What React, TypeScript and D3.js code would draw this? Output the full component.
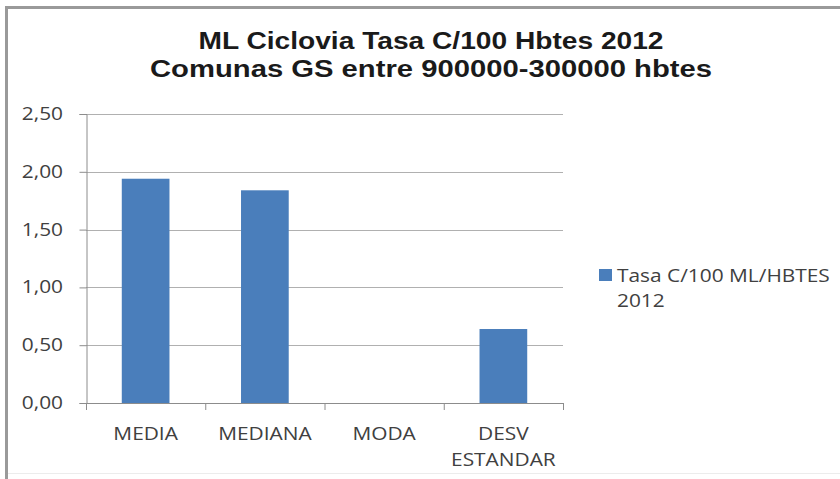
import React, { useEffect, useRef } from 'react';
import * as d3 from 'd3';

const categories = ['MEDIA', 'MEDIANA', 'MODA', 'DESV ESTANDAR'];
const categoryLines = [['MEDIA'], ['MEDIANA'], ['MODA'], ['DESV', 'ESTANDAR']];
const values = [1.94, 1.84, 0, 0.64];
const yTicks = [0, 0.5, 1, 1.5, 2, 2.5];
const titleLines = ['ML Ciclovia Tasa C/100 Hbtes 2012', 'Comunas GS entre 900000-300000 hbtes'];
const legendLines = ['Tasa C/100 ML/HBTES', '2012'];

const App: React.FC = () => {
  const chartRef = useRef<SVGSVGElement>(null);

  useEffect(() => {
    document.body.style.margin = '0';
    const svg = d3.select(chartRef.current!);
    svg.selectAll('*').remove();

    const labelFont = '"Open Sans", sans-serif';
    const barColor = '#4a7ebb';
    const sx = 1.16; // the picture is stretched sideways a little

    // text helper: stretched horizontally around its anchor point
    const addText = (
      parent: d3.Selection<any, unknown, null, undefined>,
      px: number,
      py: number,
      str: string,
      anchor: string
    ) =>
      parent
        .append('g')
        .attr('transform', `translate(${px},${py}) scale(${sx},1)`)
        .append('text')
        .attr('text-anchor', anchor)
        .attr('font-family', labelFont)
        .attr('font-size', 18)
        .attr('fill', '#404040')
        .text(str);

    // outer chart frame
    svg.append('rect').attr('width', 840).attr('height', 479).attr('fill', '#fff');
    svg
      .append('path')
      .attr('d', 'M6.5,479 V7.5 H840')
      .attr('fill', 'none')
      .attr('stroke', '#9a9a9a')
      .attr('stroke-width', 3);
    svg
      .append('line')
      .attr('x1', 8)
      .attr('x2', 840)
      .attr('y1', 473.5)
      .attr('y2', 473.5)
      .attr('stroke', '#ececec');

    // title
    const titleWidths = [465, 562];
    svg
      .append('g')
      .selectAll('text')
      .data(titleLines)
      .enter()
      .append('text')
      .attr('text-anchor', 'middle')
      .attr('font-family', '"Liberation Sans", Arial, sans-serif')
      .attr('font-weight', 'bold')
      .attr('font-size', 23)
      .attr('fill', '#1a1a1a')
      .attr('x', 431)
      .attr('y', (d, i) => 49 + i * 28)
      .attr('textLength', (d, i) => titleWidths[i])
      .attr('lengthAdjust', 'spacingAndGlyphs')
      .text((d) => d);

    const x = d3
      .scaleBand()
      .domain(categories)
      .range([86, 563])
      .paddingInner(0.6)
      .paddingOuter(0.3);

    const y = d3.scaleLinear().domain([0, 2.5]).range([403, 114]);

    const step = x.step();
    const left = 86;
    const right = 563;

    // gridlines
    svg
      .append('g')
      .selectAll('line')
      .data(yTicks)
      .enter()
      .append('line')
      .attr('x1', left)
      .attr('x2', right)
      .attr('y1', (d) => Math.round(y(d)) + 0.5)
      .attr('y2', (d) => Math.round(y(d)) + 0.5)
      .attr('stroke', '#b0b0b0');

    // y axis
    const yAxis = svg
      .append('g')
      .attr('transform', `translate(${left + 0.5},0)`)
      .call(d3.axisLeft(y).tickValues(yTicks).tickSize(7).tickFormat(() => ''));
    yAxis.select('.domain').attr('stroke', '#8c8c8c');
    yAxis.selectAll('.tick line').attr('stroke', '#8c8c8c');
    yAxis.selectAll('.tick text').remove();

    const yLabels = svg.append('g');
    yTicks.forEach((t) => {
      addText(yLabels, 63, y(t) + 6, d3.format('.2f')(t).replace('.', ','), 'end');
    });

    // bars
    svg
      .append('g')
      .selectAll('rect')
      .data(values)
      .enter()
      .append('rect')
      .attr('x', (d, i) => x(categories[i])!)
      .attr('y', (d) => y(d))
      .attr('width', x.bandwidth())
      .attr('height', (d) => y(0) - y(d))
      .attr('fill', barColor);

    // x axis line and category boundary ticks
    svg
      .append('line')
      .attr('x1', left)
      .attr('x2', right)
      .attr('y1', 403.5)
      .attr('y2', 403.5)
      .attr('stroke', '#8c8c8c');
    svg
      .append('g')
      .selectAll('line')
      .data(d3.range(categories.length + 1))
      .enter()
      .append('line')
      .attr('x1', (d) => left + d * step + 0.5)
      .attr('x2', (d) => left + d * step + 0.5)
      .attr('y1', 403)
      .attr('y2', 410)
      .attr('stroke', '#8c8c8c');

    // category labels
    const labels = svg.append('g');
    categories.forEach((c, i) => {
      categoryLines[i].forEach((line, j) => {
        addText(labels, x(c)! + x.bandwidth() / 2, 439.5 + j * 26, line, 'middle');
      });
    });

    // legend
    svg
      .append('rect')
      .attr('x', 599)
      .attr('y', 269)
      .attr('width', 13)
      .attr('height', 12)
      .attr('fill', barColor);
    const legend = svg.append('g');
    legendLines.forEach((line, i) => {
      addText(legend, 617, 282 + i * 25, line, 'start');
    });
  }, []);

  return <svg ref={chartRef} width={840} height={479} style={{ display: 'block' }} />;
};

export default App;
